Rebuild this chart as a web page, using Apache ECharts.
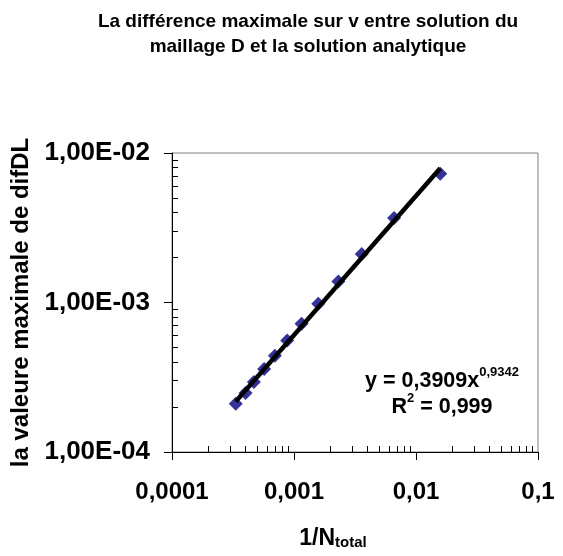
<!DOCTYPE html>
<html>
<head>
<meta charset="utf-8">
<script src="https://cdn.jsdelivr.net/npm/echarts@6/dist/echarts.min.js"></script>
<style>html,body{margin:0;padding:0;background:#fff;}#c{width:563px;height:556px;}</style>
</head>
<body>
<div id="c"></div>
<script>
// Data
var xVals = [3.33e-4, 4.01e-4, 4.69e-4, 5.69e-4, 6.97e-4, 8.79e-4, 1.154e-3, 1.58e-3, 2.31e-3, 3.59e-3, 6.61e-3, 1.58e-2];
var yVals = [2.10e-4, 2.48e-4, 2.94e-4, 3.59e-4, 4.41e-4, 5.58e-4, 7.22e-4, 9.82e-4, 1.38e-3, 2.11e-3, 3.67e-3, 7.27e-3];
var trendX = [3.33e-4, 1.58e-2];
var trendY = [2.18e-4, 7.9e-3];
var xTickLabels = ['0,0001', '0,001', '0,01', '0,1'];
var yTickLabels = ['1,00E-04', '1,00E-03', '1,00E-02'];
var titleText = 'La différence maximale sur v entre solution du\nmaillage D et la solution analytique';
var yName = 'la valeure maximale de difDL';
var eqMain = 'y = 0,3909x';
var eqExp = '0,9342';
var r2Text = ' = 0,999';

var FONT = "'Liberation Sans', Arial, sans-serif";
var minorX = [], minorY = [];
for (var e = -4; e < -1; e++) for (var k = 2; k < 10; k++) minorX.push(+(k * Math.pow(10, e)).toPrecision(3));
for (var e2 = -4; e2 < -2; e2++) for (var k2 = 2; k2 < 10; k2++) minorY.push(+(k2 * Math.pow(10, e2)).toPrecision(3));

var points = xVals.map(function (x, i) { return [x, yVals[i]]; });
var trend = trendX.map(function (x, i) { return [x, trendY[i]]; });

function xFmt(v) { var i = Math.round(Math.log10(v)) + 4; return xTickLabels[i] || ''; }
function yFmt(v) { var i = Math.round(Math.log10(v)) + 4; return yTickLabels[i] || ''; }

var chart = echarts.init(document.getElementById('c'), null, { renderer: 'canvas' });
var grid = { left: 172, right: 25, top: 153, bottom: 104, show: true, borderColor: '#808080', borderWidth: 1, backgroundColor: '#fff', containLabel: false, outerBoundsMode: 'none' };
chart.setOption({
  animation: false,
  backgroundColor: '#fff',
  title: {
    text: titleText, left: 303, top: 4, textAlign: 'center',
    textStyle: { fontFamily: FONT, fontWeight: 'bold', fontSize: 19, lineHeight: 25, color: '#000' }
  },
  grid: grid,
  xAxis: [{
    type: 'log', logBase: 10, min: 0.0001, max: 0.1, position: 'bottom',
    axisLine: { show: true, lineStyle: { color: '#000', width: 1 } },
    axisTick: { show: true, inside: false, length: 8, lineStyle: { color: '#000' } },
    axisLabel: { show: true, formatter: xFmt, margin: 28, fontFamily: FONT, fontWeight: 'bold', fontSize: 24, color: '#000' },
    splitLine: { show: false }, minorTick: { show: false }
  }, {
    type: 'log', logBase: 10, min: 0.0001, max: 0.1, position: 'bottom', gridIndex: 0,
    axisLine: { show: false },
    axisTick: { show: true, inside: true, length: 6, customValues: minorX, lineStyle: { color: '#000' } },
    axisLabel: { show: false },
    splitLine: { show: false }
  }],
  yAxis: [{
    type: 'log', logBase: 10, min: 0.0001, max: 0.01, position: 'left',
    axisLine: { show: true, lineStyle: { color: '#000', width: 1 } },
    axisTick: { show: true, inside: false, length: 8, lineStyle: { color: '#000' } },
    axisLabel: { show: true, formatter: yFmt, margin: 22, fontFamily: FONT, fontWeight: 'bold', fontSize: 26, color: '#000' },
    splitLine: { show: false },
    name: yName, nameLocation: 'middle', nameRotate: 90, nameGap: 139,
    nameTextStyle: { fontFamily: FONT, fontWeight: 'bold', fontSize: 24, color: '#000' }
  }, {
    type: 'log', logBase: 10, min: 0.0001, max: 0.01, position: 'left', gridIndex: 0,
    axisLine: { show: false },
    axisTick: { show: true, inside: true, length: 6, customValues: minorY, lineStyle: { color: '#000' } },
    axisLabel: { show: false },
    splitLine: { show: false }
  }],
  series: [{
    type: 'scatter', data: points, xAxisIndex: 0, yAxisIndex: 0,
    symbol: 'diamond', symbolSize: 14,
    itemStyle: { color: '#000080' }, z: 2
  }, {
    type: 'line', data: trend, xAxisIndex: 0, yAxisIndex: 0,
    symbol: 'none', lineStyle: { color: '#000', width: 4.5 }, z: 3
  }],
  graphic: [{
    type: 'text', x: 442, y: 392, z: 10,
    style: {
      text: '{m|' + eqMain + '}{s|' + eqExp + '}\n{m|R}{s|2}{m|' + r2Text + '}',
      align: 'center', verticalAlign: 'middle',
      rich: {
        m: { fontFamily: FONT, fontWeight: 'bold', fontSize: 21.5, color: '#000', lineHeight: 26, verticalAlign: 'bottom' },
        s: { fontFamily: FONT, fontWeight: 'bold', fontSize: 13, color: '#000', lineHeight: 26, verticalAlign: 'top', padding: [0, 0, 6, 0] }
      }
    }
  }, {
    type: 'text', x: 333, y: 536, z: 10,
    style: {
      text: '{m|1/N}{s|total}',
      align: 'center', verticalAlign: 'middle',
      rich: {
        m: { fontFamily: FONT, fontWeight: 'bold', fontSize: 23, color: '#000', lineHeight: 28, verticalAlign: 'bottom' },
        s: { fontFamily: FONT, fontWeight: 'bold', fontSize: 15, color: '#000', lineHeight: 28, verticalAlign: 'bottom', padding: [6, 0, 0, 0] }
      }
    }
  }]
});
</script>
</body>
</html>
